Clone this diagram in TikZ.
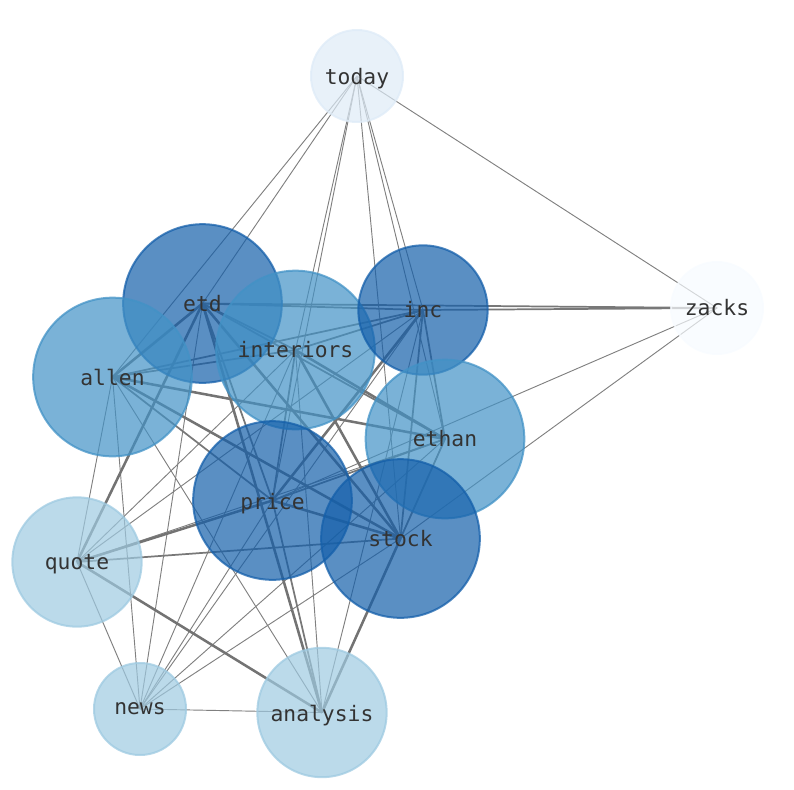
\documentclass[tikz,border=0pt]{standalone}
\usepackage{fontspec}
\newfontfamily\monof{DejaVu Sans Mono}
\definecolor{cdark}{RGB}{20,95,170}
\definecolor{cmid}{RGB}{66,146,198}
\definecolor{clight}{RGB}{158,202,225}
\definecolor{ctoday}{RGB}{222,235,247}
\definecolor{czacks}{RGB}{247,251,255}
\definecolor{ctext}{RGB}{51,51,51}
\pgfdeclarelayer{background}
\pgfsetlayers{background,main}
\tikzset{
  wnode/.style={circle, inner sep=0pt, minimum size=#1, fill opacity=0.7, draw opacity=0.75, line width=1.5pt},
  darkn/.style={wnode=119pt, fill=cdark, draw=cdark},
  darks/.style={wnode=97pt, fill=cdark, draw=cdark},
  midn/.style={wnode=119pt, fill=cmid, draw=cmid},
  lightn/.style={wnode=97pt, fill=clight, draw=clight},
  smalln/.style={wnode=69pt, fill=clight, draw=clight},
  wlabel/.style={inner sep=0pt, text=ctext, font=\monof\fontsize{16pt}{18pt}\selectfont},
  desc/.style={yshift=-2pt},
  ethin/.style={draw=black!50, line width=0.7pt},
  emed/.style={draw=black!53, line width=1.3pt},
  ethick/.style={draw=black!55, line width=1.9pt}
}
\begin{document}
\begin{tikzpicture}[x=0.75pt,y=-0.75pt]
\useasboundingbox (0,0) rectangle (794,790);
% nodes
\node[wnode=69pt, fill=ctoday, draw=ctoday] (today) at (357,76) {};
\node[wnode=69pt, fill=czacks, draw=czacks] (zacks) at (717,308) {};
\node[darkn] (etd) at (202.5,303.5) {};
\node[midn] (interiors) at (295.5,350) {};
\node[darks] (inc) at (423,310) {};
\node[midn] (allen) at (112.5,377) {};
\node[midn] (ethan) at (445,439) {};
\node[darkn] (price) at (272.5,500.5) {};
\node[darkn] (stock) at (400.5,538.5) {};
\node[lightn] (quote) at (77,562) {};
\node[smalln] (news) at (140,709) {};
\node[lightn] (analysis) at (322,712.5) {};
% edges
\begin{pgfonlayer}{background}
\foreach \a/\b in {today/zacks,today/allen,today/etd,today/interiors,today/price,today/stock,today/inc,today/ethan,
  zacks/price,zacks/stock,
  etd/news,interiors/quote,interiors/news,interiors/analysis,inc/quote,inc/news,inc/analysis,
  allen/quote,allen/news,allen/analysis,ethan/quote,ethan/news,ethan/analysis,price/news,stock/news,quote/news,news/analysis}
  \draw[ethin] (\a.center) -- (\b.center);
\foreach \a/\b in {zacks/etd,zacks/inc,etd/interiors,etd/inc,etd/ethan,etd/price,interiors/allen,interiors/inc,interiors/price,
  inc/allen,inc/ethan,inc/stock,allen/price,ethan/price,ethan/stock,price/analysis,stock/quote}
  \draw[emed] (\a.center) -- (\b.center);
\foreach \a/\b in {etd/allen,etd/stock,etd/quote,etd/analysis,interiors/ethan,interiors/stock,inc/price,allen/ethan,
  allen/stock,price/stock,price/quote,stock/analysis,quote/analysis}
  \draw[ethick] (\a.center) -- (\b.center);
\end{pgfonlayer}
% labels
\foreach \n in {zacks,etd,interiors,inc,allen,ethan,stock,news}
  \node[wlabel] (lbl-\n) at (\n.center) {\n};
\foreach \n in {today,price,quote,analysis}
  \node[wlabel,desc] (lbl-\n) at (\n.center) {\n};
\end{tikzpicture}
\end{document}
